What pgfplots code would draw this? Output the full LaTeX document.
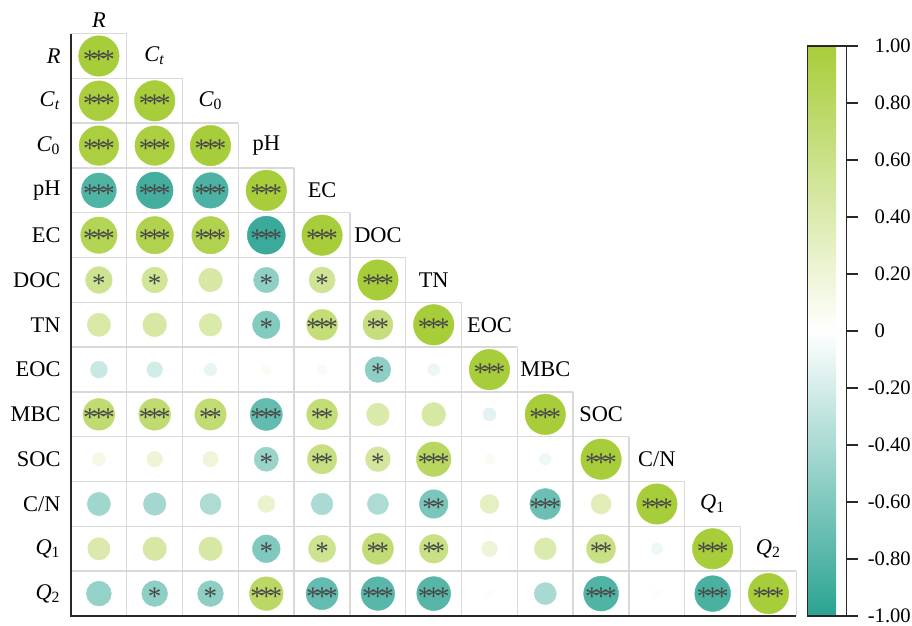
\documentclass[border=0pt]{standalone}
\usepackage{fontspec}
\setmainfont{Liberation Serif}
\usepackage{pgfplots}
\usepackage{pgfplotstable}
\pgfplotsset{compat=1.18}

\definecolor{gridc}{RGB}{217,217,217}
\definecolor{starc}{RGB}{72,72,72}
\definecolor{axc}{RGB}{40,40,40}

\newcommand\lab{\fontsize{11.2}{13}\selectfont}
% significance stars
\newcommand\sN{}
\newcommand\sA{*}
\newcommand\sB{*\kern-2.2pt*}
\newcommand\sC{*\kern-2.2pt*\kern-2.2pt*}

% lower triangle of the correlation matrix: column x, row y, r, stars
\pgfplotstableread{
x y r s
1 1 1.00 \sC
1 2 0.98 \sC
2 2 1.00 \sC
1 3 0.97 \sC
2 3 0.97 \sC
3 3 1.00 \sC
1 4 -0.82 \sC
2 4 -0.88 \sC
3 4 -0.84 \sC
4 4 1.00 \sC
1 5 0.87 \sC
2 5 0.90 \sC
3 5 0.90 \sC
4 5 -0.92 \sC
5 5 1.00 \sC
1 6 0.56 \sA
2 6 0.53 \sA
3 6 0.46 \sN
4 6 -0.52 \sA
5 6 0.54 \sA
6 6 1.00 \sC
1 7 0.45 \sN
2 7 0.47 \sN
3 7 0.43 \sN
4 7 -0.58 \sA
5 7 0.69 \sC
6 7 0.66 \sB
7 7 1.00 \sC
1 8 -0.25 \sN
2 8 -0.21 \sN
3 8 -0.11 \sN
4 8 0.05 \sN
5 8 -0.04 \sN
6 8 -0.53 \sA
7 8 -0.09 \sN
8 8 1.00 \sC
1 9 0.72 \sC
2 9 0.72 \sC
3 9 0.71 \sB
4 9 -0.73 \sC
5 9 0.69 \sB
6 9 0.43 \sN
7 9 0.47 \sN
8 9 -0.13 \sN
9 9 1.00 \sC
1 10 0.13 \sN
2 10 0.21 \sN
3 10 0.20 \sN
4 10 -0.48 \sA
5 10 0.64 \sB
6 10 0.50 \sA
7 10 0.81 \sC
8 10 0.06 \sN
9 10 -0.08 \sN
10 10 1.00 \sC
1 11 -0.45 \sN
2 11 -0.43 \sN
3 11 -0.38 \sN
4 11 0.25 \sN
5 11 -0.40 \sN
6 11 -0.38 \sN
7 11 -0.62 \sB
8 11 0.31 \sN
9 11 -0.69 \sC
10 11 0.35 \sN
11 11 1.00 \sC
1 12 0.42 \sN
2 12 0.46 \sN
3 12 0.46 \sN
4 12 -0.59 \sA
5 12 0.57 \sA
6 12 0.70 \sB
7 12 0.62 \sB
8 12 0.21 \sN
9 12 0.41 \sN
10 12 0.63 \sB
11 12 -0.08 \sN
12 12 1.00 \sC
1 13 -0.50 \sN
2 13 -0.53 \sA
3 13 -0.53 \sA
4 13 0.78 \sC
5 13 -0.73 \sC
6 13 -0.78 \sC
7 13 -0.79 \sC
8 13 0.02 \sN
9 13 -0.41 \sN
10 13 -0.82 \sC
11 13 0.02 \sN
12 13 -0.85 \sC
13 13 1.00 \sC
}\corr

\begin{document}
\begin{tikzpicture}
\useasboundingbox (-35.5pt,-5pt) rectangle (420.5pt,308pt);
\begin{axis}[
    at={(0,0)}, anchor=south west,
    scale only axis,
    width=362.7pt, height=291.2pt,
    xmin=0.5, xmax=13.5, ymin=0.5, ymax=13.5,
    y dir=reverse,
    clip=false,
    axis line style={draw=none},
    xtick=\empty,
    ytick={1,2,3,4,5,6,7,8,9,10,11,12,13},
    yticklabels={{\textit{R}},{\textit{C}\textsubscript{\textit{t}}},{\textit{C}\textsubscript{0}},pH,EC,DOC,TN,EOC,MBC,SOC,C/N,{\textit{Q}\textsubscript{1}},{\textit{Q}\textsubscript{2}}},
    yticklabel style={font=\lab, xshift=-1.7pt},
    major tick length=0pt,
    colormap={corr}{rgb255(0cm)=(42,163,145); rgb255(1cm)=(255,255,255); rgb255(2cm)=(168,205,58)},
    point meta min=-1, point meta max=1,
    colorbar,
    colorbar style={
        at={(parent axis.south east)}, anchor=south west, xshift=-2.9pt,
        width=19.5pt, height=285pt,
        axis line style={draw=axc, line width=0.8pt},
        ytick={-1,-0.8,-0.6,-0.4,-0.2,0,0.2,0.4,0.6,0.8,1},
        yticklabels={\llap{-}1.00,\llap{-}0.80,\llap{-}0.60,\llap{-}0.40,\llap{-}0.20,0,0.20,0.40,0.60,0.80,1.00},
        ytick pos=right, yticklabel pos=right,
        tick align=outside, major tick length=5.5pt,
        ytick style={draw=axc, line width=0.8pt},
        yticklabel style={font=\fontsize{10.3}{12}\selectfont, xshift=5pt},
    },
]
% cell borders of the lower triangle
\pgfplotsinvokeforeach{1,2,3,4,5,6,7,8,9,10,11,12,13}{
    \draw[gridc, line width=0.7pt] (axis cs:#1+0.5,#1-0.5) -- (axis cs:#1+0.5,13.5);
    \draw[gridc, line width=0.7pt] (axis cs:0.5,#1-0.5) -- (axis cs:#1+0.5,#1-0.5);
}
\draw[axc, line width=1pt] (axis cs:0.5,0.5) -- (axis cs:0.5,13.5) -- (axis cs:13.5,13.5);

\addplot[
    scatter, only marks, mark=*,
    point meta=explicit,
    scatter/use mapped color={draw=mapped color, fill=mapped color},
    visualization depends on={2.3+7.83*abs(\thisrow{r}) \as \rad},
    scatter/@pre marker code/.append style={/tikz/mark size=\rad},
    mark options={line width=0.2pt},
] table[x=x, y=y, meta=r] {\corr};

\addplot[
    draw=none, mark=none,
    point meta=explicit symbolic,
    nodes near coords,
    nodes near coords style={anchor=center, text=starc, font=\fontsize{13.5}{14}\selectfont, yshift=-1.6pt, inner sep=0pt},
] table[x=x, y=y, meta=s] {\corr};

% variable names along the diagonal
\node[font=\lab] at (axis cs:1,0.19) {\textit{R}};
\node[font=\lab] at (axis cs:2,1) {\textit{C}\textsubscript{\textit{t}}};
\node[font=\lab] at (axis cs:3,2) {\textit{C}\textsubscript{0}};
\node[font=\lab] at (axis cs:4,3) {pH};
\node[font=\lab] at (axis cs:5,4) {EC};
\node[font=\lab] at (axis cs:6,5) {DOC};
\node[font=\lab] at (axis cs:7,6) {TN};
\node[font=\lab] at (axis cs:8,7) {EOC};
\node[font=\lab] at (axis cs:9,8) {MBC};
\node[font=\lab] at (axis cs:10,9) {SOC};
\node[font=\lab] at (axis cs:11,10) {C/N};
\node[font=\lab] at (axis cs:12,11) {\textit{Q}\textsubscript{1}};
\node[font=\lab] at (axis cs:13,12) {\textit{Q}\textsubscript{2}};
\end{axis}
\end{tikzpicture}
\end{document}
